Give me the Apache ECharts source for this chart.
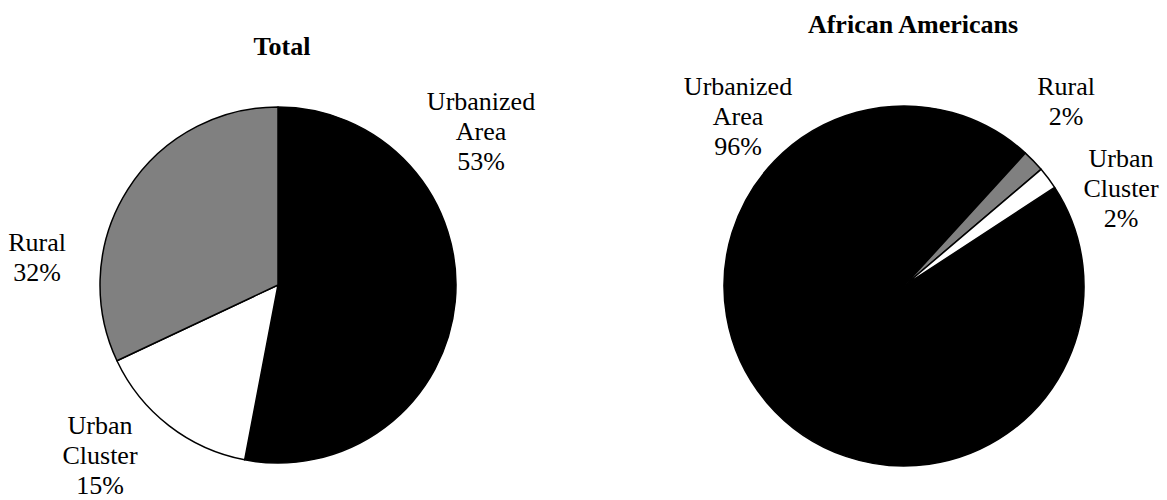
<!DOCTYPE html>
<html>
<head>
<meta charset="utf-8">
<script src="https://cdn.jsdelivr.net/npm/echarts@6/dist/echarts.min.js"></script>
<style>
  html, body { margin: 0; padding: 0; background: #fff; }
  #chart { width: 1167px; height: 500px; }
</style>
</head>
<body>
<div id="chart"></div>
<script>
// Share of population by area type
const categoriesTotal = ['Urbanized Area', 'Urban Cluster', 'Rural'];
const valuesTotal = [53, 15, 32];

const categoriesAA = ['Urbanized Area', 'Rural', 'Urban Cluster'];
const valuesAA = [96, 2, 2];

const chartTitles = ['Total', 'African Americans'];

// Fill colour for each area type
const areaColors = {
  'Urbanized Area': '#000000',
  'Urban Cluster': '#ffffff',
  'Rural': '#808080'
};

// Label block centres (pixels), per pie, in data order
const labelSpots = [
  [[481, 131], [100, 455], [37, 257]],
  [[738, 116], [1066, 101], [1121, 188]]
];

const FONT = '"Liberation Serif", "Times New Roman", serif';

function buildData(cats, vals) {
  return cats.map((c, i) => ({
    name: c,
    value: vals[i],
    itemStyle: { color: areaColors[c] }
  }));
}

function pieSeries(cats, vals, center, radius, startAngle) {
  return {
    type: 'pie',
    center: center,
    radius: radius,
    startAngle: startAngle,
    clockwise: true,
    percentPrecision: 0,
    avoidLabelOverlap: false,
    animation: false,
    itemStyle: { borderColor: '#000', borderWidth: 1.5 },
    emphasis: { disabled: true },
    label: {
      show: true,
      position: 'outside',
      formatter: p => p.name.split(' ').join('\n') + '\n' + p.percent + '%',
      fontFamily: FONT,
      fontSize: 26,
      lineHeight: 30,
      color: '#000',
      align: 'center'
    },
    labelLine: { show: false },
    labelLayout: params => {
      const s = labelSpots[params.seriesIndex][params.dataIndex];
      return { x: s[0], y: s[1], align: 'center', verticalAlign: 'middle' };
    },
    data: buildData(cats, vals)
  };
}

const titleStyle = { fontFamily: FONT, fontSize: 26, fontWeight: 'bold', color: '#000' };

const chart = echarts.init(document.getElementById('chart'), null, { renderer: 'svg' });
chart.setOption({
  backgroundColor: '#fff',
  title: [
    { text: chartTitles[0], left: 277, top: 28, textAlign: 'center', textStyle: titleStyle },
    { text: chartTitles[1], left: 908, top: 6, textAlign: 'center', textStyle: titleStyle }
  ],
  series: [
    pieSeries(categoriesTotal, valuesTotal, [278, 285], 178, 90),
    pieSeries(categoriesAA, valuesAA, [904, 286], 180, 33.2)
  ]
});
</script>
</body>
</html>
